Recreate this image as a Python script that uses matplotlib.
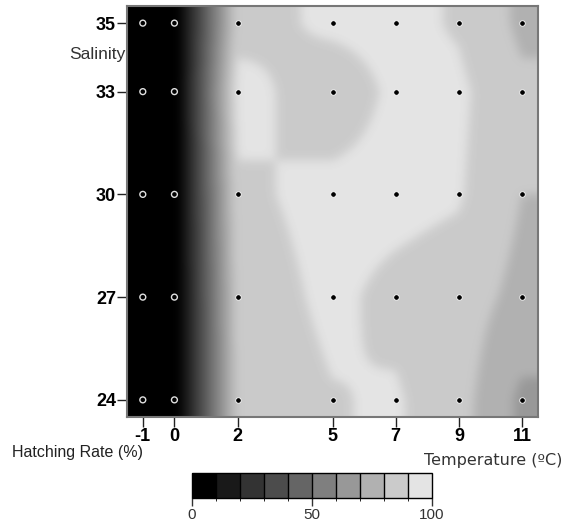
import numpy as np
import matplotlib
matplotlib.use("Agg")
import matplotlib.pyplot as plt
from matplotlib.colors import ListedColormap, BoundaryNorm
from matplotlib.cm import ScalarMappable
from matplotlib import font_manager

plt.rcParams['font.family'] = ['Liberation Sans', 'DejaVu Sans']
plt.rcParams['axes.unicode_minus'] = False

names = {f.name for f in font_manager.fontManager.ttflist}
narrow = 'Liberation Sans Narrow' if 'Liberation Sans Narrow' in names else 'Liberation Sans'

# measured points
temps = [-1, 0, 2, 5, 7, 9, 11]
salinity = [24, 27, 30, 33, 35]
# hatching rate (%), one row per salinity (24 -> 35)
rate_s24 = [0, 0, 84, 89.5, 91, 84, 68]
rate_s27 = [0, 0, 85, 92, 87.5, 85, 77]
rate_s30 = [0, 0, 88, 93, 93, 91, 80]
rate_s33 = [0, 0, 94, 84, 92, 92, 82]
rate_s35 = [0, 0, 86, 92, 93, 89, 78]
rates = np.array([rate_s24, rate_s27, rate_s30, rate_s33, rate_s35])

level_edges = list(range(0, 101, 10))
level_grays = [i * 0.0993 for i in range(10)]

# bilinear surface on a fine grid, then quantized into the 10 levels
nx, ny = 411, 411
xs = np.linspace(-1.5, 11.5, nx)
ys = np.linspace(23.5, 35.5, ny)
rows = np.array([np.interp(xs, temps, r) for r in rates])
surf = np.array([np.interp(ys, salinity, rows[:, j]) for j in range(nx)]).T
lev = np.clip(np.floor(surf / 10).astype(int), 0, 9)
gray = np.array(level_grays)[lev]

# soften band edges
sig = 5.0
k = np.exp(-0.5 * (np.arange(-15, 16) / sig) ** 2)
k /= k.sum()
pad = np.pad(gray, 15, mode='edge')
pad = np.apply_along_axis(lambda v: np.convolve(v, k, mode='same'), 0, pad)
pad = np.apply_along_axis(lambda v: np.convolve(v, k, mode='same'), 1, pad)
gray = pad[15:-15, 15:-15]

fig = plt.figure(figsize=(5.68, 5.21), dpi=100)
ax = fig.add_axes([127 / 568, 1 - 417 / 521, 411 / 568, 411 / 521])
ax.imshow(gray, cmap='gray', vmin=0, vmax=1, origin='lower',
          extent=[-1.5, 11.5, 23.5, 35.5], aspect='auto', interpolation='bilinear')

# sample points: open circles where nothing hatched
tt, ss = np.meshgrid(temps, salinity)
zero = rates == 0
ax.scatter(tt[zero], ss[zero], s=18, facecolors='none', edgecolors='#e0e0e0', linewidths=1.0, zorder=3)
ax.scatter(tt[~zero], ss[~zero], s=16, c='black', edgecolors='white', linewidths=0.6, zorder=3)

ax.set_xlim(-1.5, 11.5)
ax.set_ylim(23.5, 35.5)
ax.set_xticks(temps)
ax.set_yticks(salinity)
ax.tick_params(direction='out', length=7, width=1, colors='#222222', pad=1)
for lab in ax.get_xticklabels() + ax.get_yticklabels():
    lab.set_fontweight('bold')
    lab.set_fontfamily(narrow)
    lab.set_fontsize(13)
    lab.set_color('black')
for sp in ax.spines.values():
    sp.set_color('#777777')
    sp.set_linewidth(1.5)

fig.text(125 / 568, 1 - 55 / 521, 'Salinity', ha='right', va='center', fontsize=12.5, color='#333333')
fig.text(12 / 568, 1 - 452 / 521, 'Hatching Rate (%)', ha='left', va='center', fontsize=11.5, color='#222222')
fig.text(562 / 568, 1 - 461 / 521, 'Temperature (ºC)', ha='right', va='center', fontsize=11.5,
         color='#333333', family=['DejaVu Sans'])

# colour key
cax = fig.add_axes([192 / 568, 1 - 498 / 521, 240 / 568, 25 / 521])
cmap = ListedColormap([(g, g, g) for g in level_grays])
norm = BoundaryNorm(level_edges, cmap.N)
cb = fig.colorbar(ScalarMappable(norm=norm, cmap=cmap), cax=cax, orientation='horizontal',
                  drawedges=True, ticks=[0, 50, 100])
cb.outline.set_linewidth(1.0)
cb.dividers.set_linewidth(1.0)
cb.dividers.set_color('black')
cax.tick_params(direction='out', length=6, width=1, pad=1, colors='#333333')
for lab in cax.get_xticklabels():
    lab.set_fontfamily(narrow)
    lab.set_fontsize(11)

fig.savefig('out.png', dpi=100)
